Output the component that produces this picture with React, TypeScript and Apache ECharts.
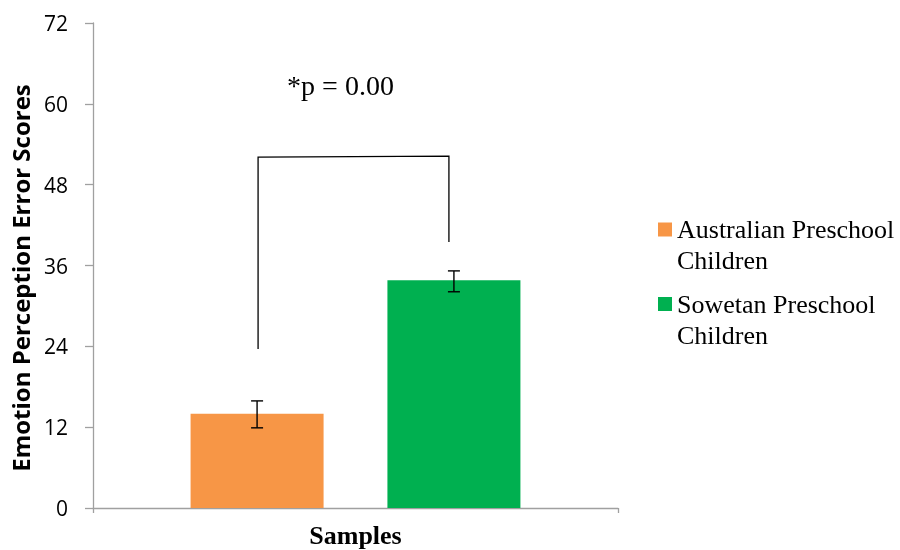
import React, { useEffect, useRef } from "react";
import * as echarts from "echarts";

// Groups and their mean error scores with error-bar ranges
const categories = ["Samples"];
const groupNames = ["Australian Preschool\nChildren", "Sowetan Preschool\nChildren"];
const groupColors = ["#F79646", "#00B050"];
const meanScores = [14.0, 33.8];
const errorLow = [11.9, 32.1];
const errorHigh = [15.9, 35.2];

// Significance bracket: left foot, top, right foot (in score units)
const bracketLeftFoot = 23.6;
const bracketTop = 52.1;
const bracketRightFoot = 39.5;
const pLabel = "*p = 0.00";
const pLabelValue = 62.7;

const yTitle = "Emotion Perception Error Scores";
const yTicks = { min: 0, max: 72, interval: 12 };

const BAR_WIDTH = 133;
const BAR_GAP = 0.48; // fraction of bar width

// horizontal distance from the category centre to each bar centre
const barOffset = (BAR_WIDTH + BAR_WIDTH * BAR_GAP) / 2;
const barCenterShift = (i: number) => (i === 0 ? -barOffset : barOffset);

const LEGEND_LINE = 31;

export default function App() {
  const ref = useRef<HTMLDivElement>(null);

  useEffect(() => {
    if (!ref.current) return;
    const chart = echarts.init(ref.current, null, { renderer: "svg" });

    const barSeries = groupNames.map((name, i) => ({
      name,
      type: "bar",
      barWidth: BAR_WIDTH,
      barGap: `${BAR_GAP * 100}%`,
      itemStyle: { color: groupColors[i] },
      data: [meanScores[i]],
    }));

    const errorSeries = {
      type: "custom",
      silent: true,
      z: 10,
      data: meanScores.map((_, i) => [0, errorLow[i], errorHigh[i], i]),
      renderItem: (params: any, api: any) => {
        const idx = api.value(3);
        const lo = api.coord([api.value(0), api.value(1)]);
        const hi = api.coord([api.value(0), api.value(2)]);
        const x = lo[0] + barCenterShift(idx);
        const cap = 6;
        const style = { stroke: "#000", lineWidth: 1.4, fill: "none" };
        return {
          type: "group",
          children: [
            { type: "line", shape: { x1: x, y1: lo[1], x2: x, y2: hi[1] }, style },
            { type: "line", shape: { x1: x - cap, y1: lo[1], x2: x + cap, y2: lo[1] }, style },
            { type: "line", shape: { x1: x - cap, y1: hi[1], x2: x + cap, y2: hi[1] }, style },
          ],
        };
      },
    };

    const bracketSeries = {
      type: "custom",
      silent: true,
      z: 10,
      data: [[0, bracketLeftFoot, bracketTop, bracketRightFoot, pLabelValue]],
      renderItem: (params: any, api: any) => {
        const c = api.value(0);
        const left = api.coord([c, api.value(1)]);
        const top = api.coord([c, api.value(2)]);
        const right = api.coord([c, api.value(3)]);
        const label = api.coord([c, api.value(4)]);
        const xl = left[0] + barCenterShift(0) + 1;
        const xr = left[0] + barCenterShift(1) - 5;
        return {
          type: "group",
          children: [
            {
              type: "polyline",
              shape: {
                points: [
                  [xl, left[1]],
                  [xl, top[1]],
                  [xr, top[1] - 1],
                  [xr, right[1]],
                ],
              },
              style: { stroke: "#000", lineWidth: 1.3, fill: "none" },
            },
            {
              type: "text",
              x: label[0] - 15,
              y: label[1],
              style: {
                text: pLabel,
                font: "28px 'Liberation Serif'",
                fill: "#000",
                align: "center",
                verticalAlign: "middle",
              },
            },
          ],
        };
      },
    };

    chart.setOption({
      animation: false,
      grid: { left: 93, right: 282, top: 23, bottom: 42, outerBoundsMode: "none" },
      legend: {
        orient: "vertical",
        left: 653,
        top: 178,
        itemWidth: 14,
        itemHeight: 14,
        itemGap: 74.5 - 3 * LEGEND_LINE,
        icon: "rect",
        selectedMode: false,
        // a blank leading line keeps the swatch level with the first line of text
        formatter: (name: string) => "\n" + name,
        textStyle: {
          fontFamily: "Liberation Serif",
          fontSize: 26,
          lineHeight: LEGEND_LINE,
          color: "#000",
        },
        data: groupNames,
      },
      graphic: [
        {
          type: "text",
          x: 20,
          y: 278,
          rotation: Math.PI / 2,
          style: {
            text: yTitle,
            font: "bold 24px 'Open Sans'",
            fill: "#000",
            align: "center",
            verticalAlign: "middle",
          },
        },
      ],
      xAxis: {
        type: "category",
        data: categories,
        axisLine: { lineStyle: { color: "#A0A0A0", width: 1.3 } },
        axisTick: { show: true, length: 5, lineStyle: { color: "#A0A0A0", width: 1.3 } },
        axisLabel: {
          margin: 14,
          fontFamily: "Liberation Serif",
          fontWeight: "bold",
          fontSize: 26,
          lineHeight: 26,
          color: "#000",
        },
      },
      yAxis: {
        type: "value",
        min: yTicks.min,
        max: yTicks.max,
        interval: yTicks.interval,
        axisLine: { show: true, lineStyle: { color: "#A0A0A0", width: 1.3 } },
        axisTick: { show: true, length: 8, lineStyle: { color: "#A0A0A0", width: 1.3 } },
        splitLine: { show: false },
        axisLabel: {
          margin: 25,
          fontFamily: "Open Sans",
          fontSize: 21,
          color: "#000",
        },
      },
      series: [...barSeries, errorSeries, bracketSeries],
    });

    return () => chart.dispose();
  }, []);

  return (
    <div
      ref={ref}
      style={{ position: "fixed", left: 0, top: 0, width: 900, height: 550 }}
    />
  );
}
